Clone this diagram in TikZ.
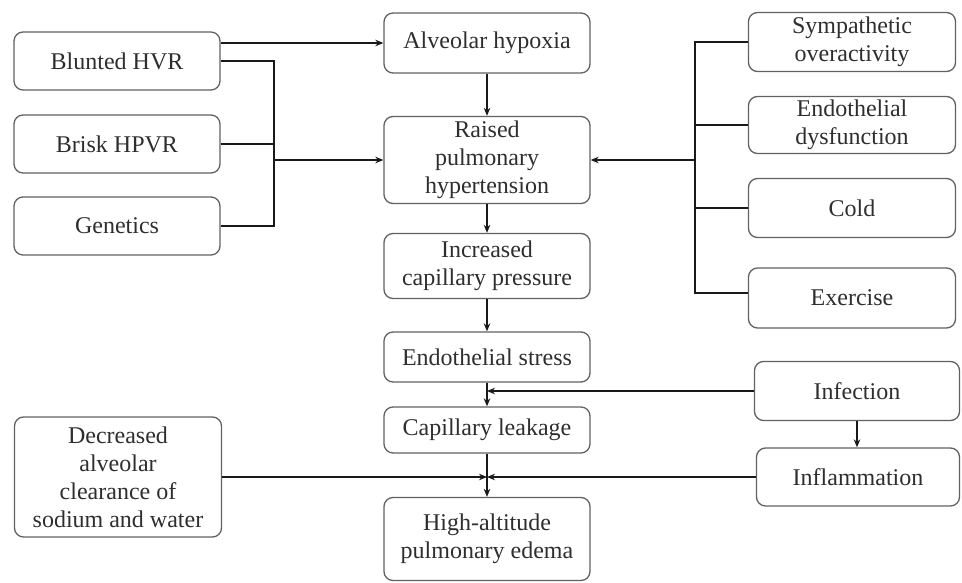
\documentclass[tikz,border=0pt]{standalone}
\usepackage{fontspec}
\setmainfont{Liberation Serif}
\usepackage{xcolor}
\colorlet{colorBox}{black!62}
\colorlet{colorText}{black!82}
\colorlet{colorLink}{black!90}
\usepackage{tikz}
\usetikzlibrary{arrows.meta, positioning}
\tikzset{box/.style={draw=colorBox, rounded corners=9pt, line width=1.3pt, inner sep=0pt,
  align=center, text=colorText, font=\fontsize{24}{28}\selectfont, minimum width=206pt}}

\begin{document}
\begin{tikzpicture}[x=1pt, y=-1pt, >={Stealth[length=8pt, width=6.5pt]}, line width=1.4pt]
\useasboundingbox (0,0) rectangle (962,583);
% left column
\node[box, minimum height=58pt] (hvr) at (117,61) {Blunted HVR};
\node[box, minimum height=58pt] (hpvr) at (117,144) {Brisk HPVR};
\node[box, minimum height=58pt] (gen) at (117,226) {Genetics};
\node[box, minimum height=120pt, minimum width=207pt] (dac) at (118,477) {Decreased\\alveolar\\clearance of\\sodium and water};
% middle column
\node[box, minimum height=60pt] (alv) at (487,43) {Alveolar hypoxia};
\node[box, minimum height=87pt] (raised) at (487,160) {Raised\\pulmonary\\hypertension};
\node[box, minimum height=65pt] (icp) at (487,266) {Increased\\capillary pressure};
\node[box, minimum height=50pt] (est) at (487,357) {Endothelial stress};
\node[box, minimum height=46pt] (leak) at (487,430) {Capillary leakage};
\node[box, minimum height=83pt] (hape) at (487,539) {High-altitude\\pulmonary edema};
% right column
\node[box, minimum height=59pt, minimum width=207pt] (sym) at (852,42) {Sympathetic\\overactivity};
\node[box, minimum height=57pt, minimum width=207pt] (edys) at (852,125) {Endothelial\\dysfunction};
\node[box, minimum height=59pt, minimum width=207pt] (cold) at (852,208) {Cold};
\node[box, minimum height=60pt, minimum width=207pt] (exer) at (852,298) {Exercise};
\node[box, minimum height=59pt, minimum width=205pt] (inf) at (857,391) {Infection};
\node[box, minimum height=58pt, minimum width=203pt] (infl) at (858,477) {Inflammation};
\coordinate (busL) at (274,160);
\coordinate (busR) at (695,160);
% links
\draw [->, colorLink] (hvr.east |- alv.west) -- (alv.west);
\draw [colorLink] (hvr.east) -- (hvr.east -| busL) -- (gen.east -| busL) -- (gen.east);
\draw [colorLink] (hpvr.east) -- (hpvr.east -| busL);
\draw [->, colorLink] (busL) -- (raised.west);
\draw [colorLink] (sym.west) -- (sym.west -| busR) -- ([yshift=5pt]exer.west -| busR) -- ([yshift=5pt]exer.west);
\draw [colorLink] (edys.west) -- (edys.west -| busR);
\draw [colorLink] (cold.west) -- (cold.west -| busR);
\draw [->, colorLink] (busR) -- (raised.east);
\draw [->, colorLink] (alv) edge (raised) (raised) edge (icp) (icp) edge (est) (est) edge (leak) (leak) edge (hape);
\draw [->, colorLink] (inf.west) -- (inf.west -| est.south);
\draw [->, colorLink] (inf.south) -- (inf.south |- infl.north);
\draw [->, colorLink] (dac.east) -- (dac.east -| leak.south);
\draw [->, colorLink] (infl.west) -- (infl.west -| leak.south);
\end{tikzpicture}
\end{document}
